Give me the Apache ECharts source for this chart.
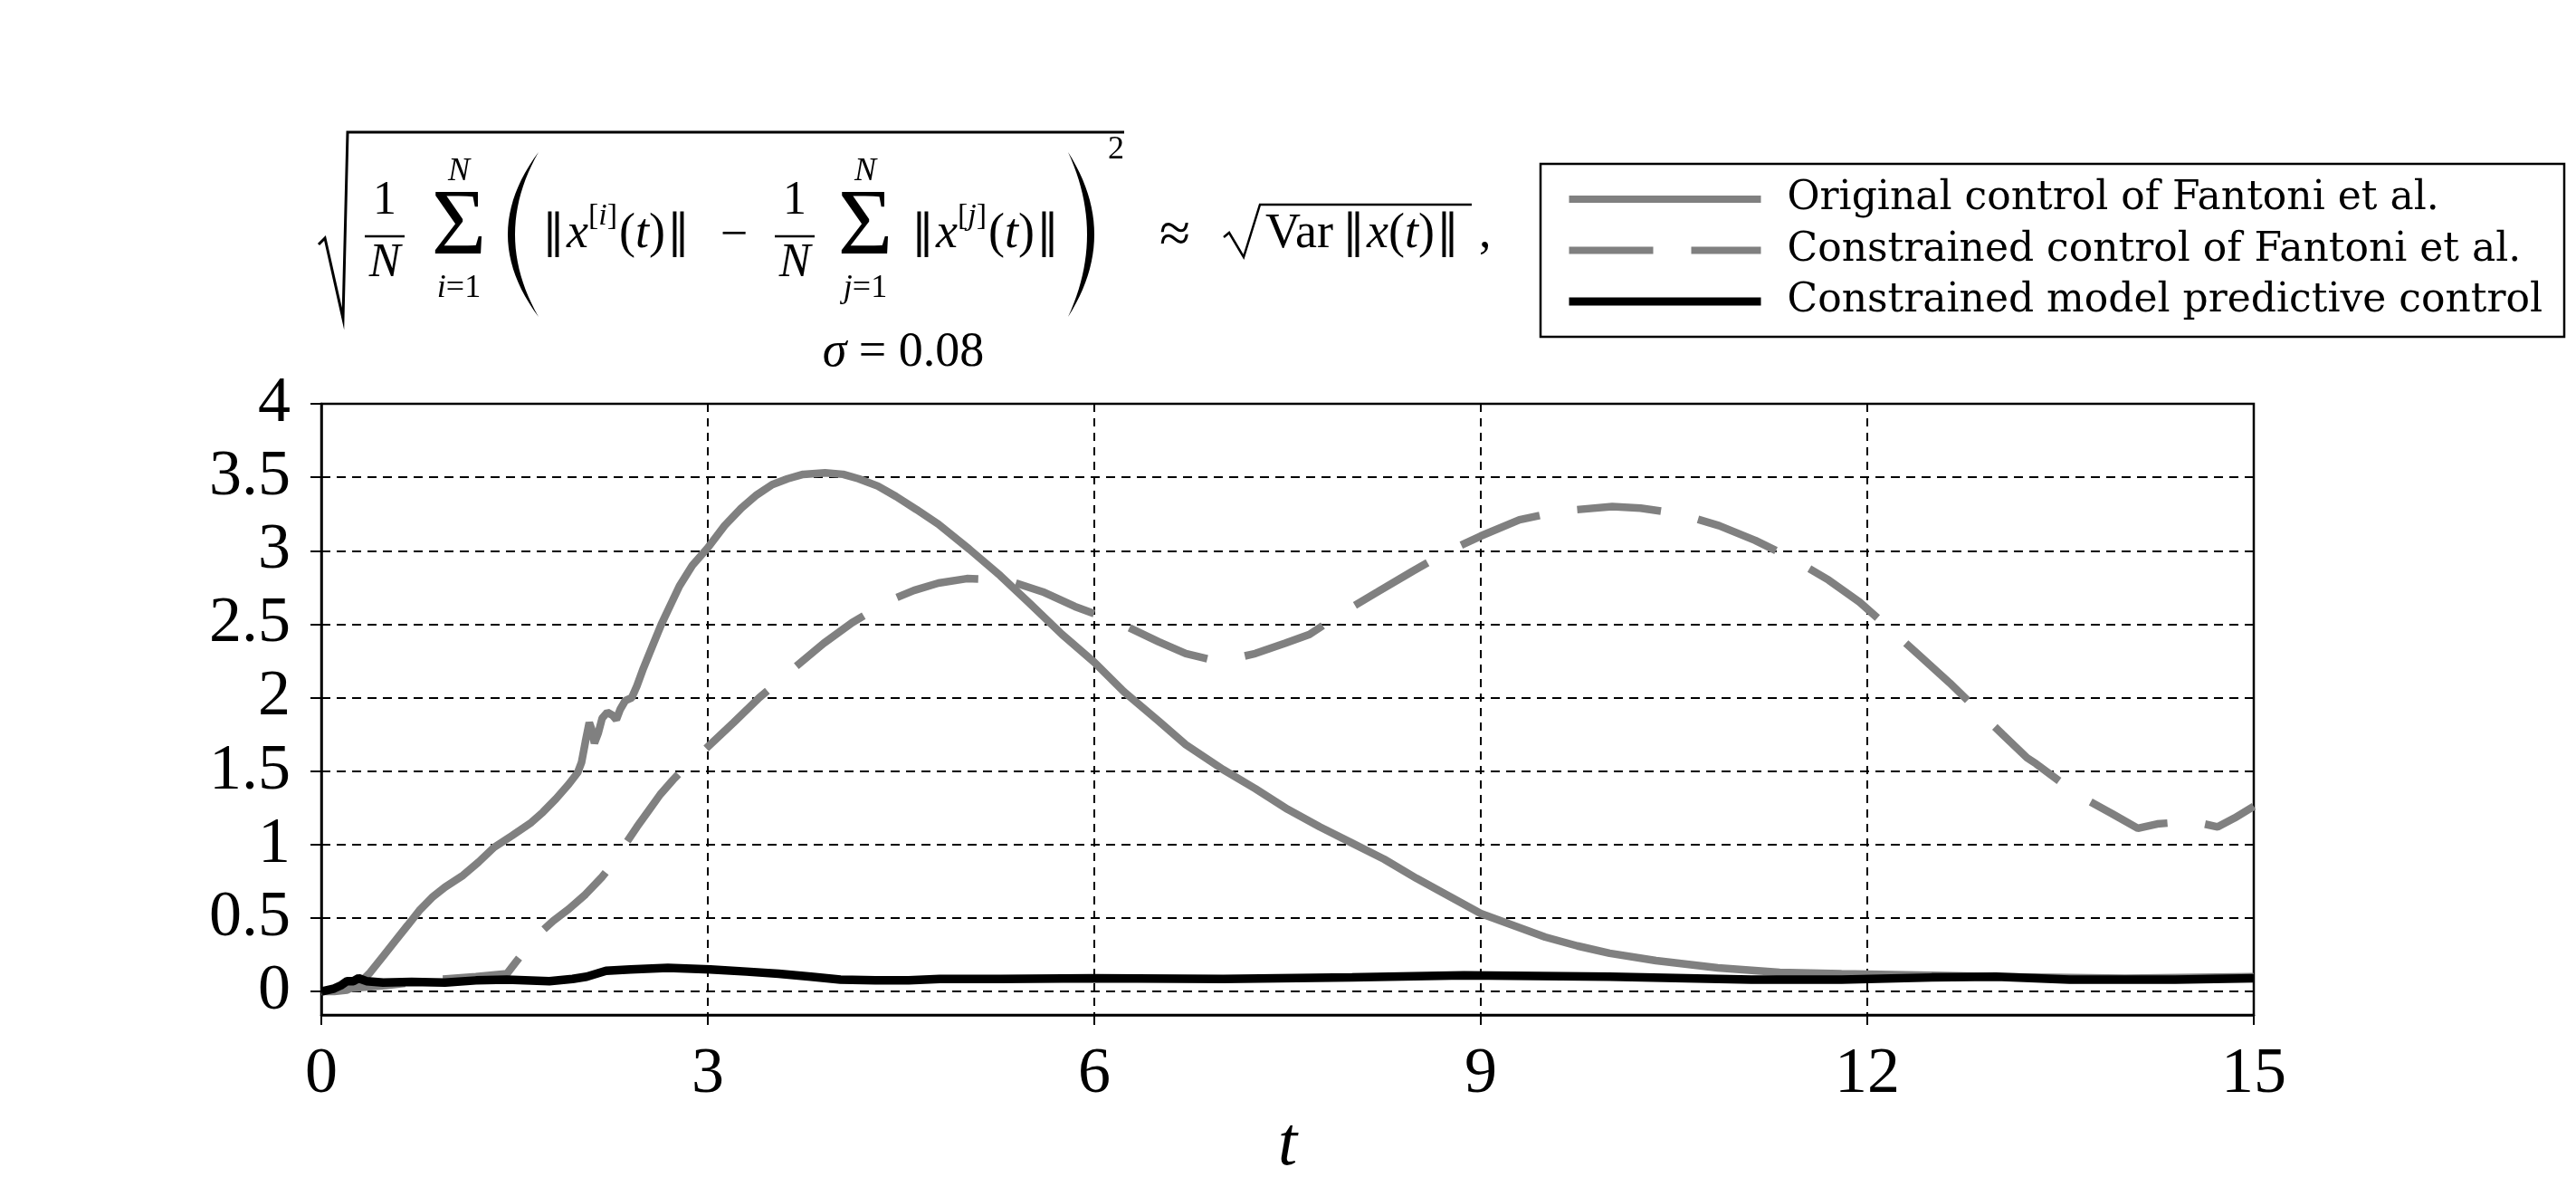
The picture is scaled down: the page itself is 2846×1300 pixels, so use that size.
<!DOCTYPE html>
<html>
<head>
<meta charset="utf-8">
<title>sqrt Var ||x(t)||</title>
<script src="https://cdn.jsdelivr.net/npm/echarts@6/dist/echarts.min.js"></script>
<style>
  html, body { margin: 0; padding: 0; background: #fff; }
  #echart1 { width: 2846px; height: 1300px; }
</style>
</head>
<body>
<div id="echart1"></div>
<script>
// 数据 (t, 值)

// Original control of Fantoni et al.
const tOrig = [0, 0.1, 0.2, 0.29, 0.38, 0.48, 0.57, 0.67, 0.76, 0.86, 0.96, 1.1, 1.22, 1.34, 1.48, 1.63, 1.72, 1.82, 1.92, 1.99,
  2.02, 2.05, 2.08, 2.1, 2.12, 2.15, 2.18, 2.22, 2.26, 2.29, 2.32, 2.36, 2.41, 2.45, 2.5, 2.57, 2.64, 2.71, 2.78, 2.88,
  3.0, 3.13, 3.26, 3.38, 3.5, 3.62, 3.74, 3.91, 4.05, 4.17, 4.32, 4.46, 4.62, 4.79, 5.03, 5.27, 5.5, 5.75, 6.0, 6.23,
  6.5, 6.71, 7.0, 7.25, 7.5, 7.75, 8.0, 8.25, 8.5, 8.75, 9.0, 9.25, 9.5, 9.75, 10.0, 10.36, 10.84, 11.32, 11.8, 12.5,
  13.0, 14.0, 15.0];
const vOrig = [0, 0.0, 0.01, 0.05, 0.13, 0.24, 0.34, 0.45, 0.55, 0.64, 0.71, 0.79, 0.88, 0.98, 1.06, 1.15, 1.22, 1.31, 1.41, 1.49,
  1.56, 1.7, 1.83, 1.78, 1.69, 1.76, 1.86, 1.9, 1.88, 1.85, 1.92, 1.98, 2.0, 2.08, 2.2, 2.35, 2.5, 2.63, 2.76, 2.9,
  3.02, 3.17, 3.29, 3.38, 3.45, 3.49, 3.52, 3.53, 3.52, 3.49, 3.44, 3.37, 3.28, 3.18, 3.01, 2.83, 2.64, 2.43, 2.24, 2.04,
  1.84, 1.68, 1.51, 1.38, 1.24, 1.12, 1.01, 0.9, 0.77, 0.65, 0.53, 0.45, 0.37, 0.31, 0.26, 0.21, 0.16, 0.13, 0.12, 0.11,
  0.1, 0.09, 0.1];

// Constrained control of Fantoni et al.
const tCons = [0, 0.2, 0.5, 0.9, 1.2, 1.44, 1.51, 1.6, 1.7, 1.8, 1.92, 2.05, 2.18, 2.27, 2.35, 2.45, 2.54, 2.63, 2.73, 2.85,
  2.97, 3.2, 3.4, 3.64, 3.9, 4.12, 4.41, 4.6, 4.79, 5.01, 5.32, 5.6, 5.85, 6.19, 6.5, 6.71, 6.9, 7.05, 7.25, 7.48,
  7.67, 7.91, 8.2, 8.47, 8.73, 9.0, 9.3, 9.62, 10.02, 10.24, 10.55, 10.85, 11.13, 11.41, 11.7, 11.94, 12.16, 12.4, 12.64, 12.85,
  13.05, 13.24, 13.31, 13.57, 13.67, 13.9, 14.1, 14.25, 14.39, 14.51, 14.72, 14.85, 15.0];
const vCons = [0, 0.02, 0.04, 0.08, 0.1, 0.12, 0.2, 0.3, 0.4, 0.48, 0.56, 0.66, 0.78, 0.88, 0.99, 1.12, 1.23, 1.34, 1.44, 1.55,
  1.64, 1.83, 2.0, 2.18, 2.37, 2.51, 2.66, 2.73, 2.78, 2.81, 2.8, 2.72, 2.62, 2.51, 2.38, 2.3, 2.26, 2.26, 2.3, 2.37,
  2.43, 2.57, 2.72, 2.86, 2.99, 3.1, 3.21, 3.27, 3.3, 3.29, 3.25, 3.17, 3.07, 2.95, 2.8, 2.65, 2.48, 2.29, 2.1, 1.92,
  1.75, 1.59, 1.55, 1.38, 1.32, 1.21, 1.11, 1.14, 1.15, 1.16, 1.12, 1.18, 1.26];

// Constrained model predictive control
const tMpc = [0, 0.1, 0.15, 0.2, 0.25, 0.29, 0.35, 0.48, 0.7, 0.96, 1.2, 1.44, 1.77, 1.95, 2.06, 2.21, 2.4, 2.69, 3.02, 3.3,
  3.55, 3.8, 4.03, 4.3, 4.56, 4.8, 5.27, 6.0, 7.0, 8.0, 8.87, 10.0, 11.1, 11.8, 12.5, 13.0, 13.57, 14.39, 15.0];
const vMpc = [0, 0.02, 0.04, 0.07, 0.07, 0.09, 0.07, 0.06, 0.065, 0.06, 0.075, 0.08, 0.07, 0.085, 0.1, 0.14, 0.15, 0.16, 0.15, 0.135,
  0.12, 0.1, 0.08, 0.075, 0.075, 0.085, 0.085, 0.09, 0.085, 0.095, 0.11, 0.1, 0.08, 0.08, 0.095, 0.1, 0.08, 0.08, 0.09];

const seriesNames = ["Original control of Fantoni et al.", "Constrained control of Fantoni et al.", "Constrained model predictive control"];
const yTicks = [0, 0.5, 1, 1.5, 2, 2.5, 3, 3.5, 4];

const GRAY = "#808080";
const MATH = "Liberation Serif";
const BARS = "DejaVu Serif";

function pairs(ts, vs) {
  let out = [];
  for (let i in ts) {
    out.push([ts[i], vs[i]]);
  }
  return out;
}

/*量文字宽度, 用来排公式*/
const ctx = document.createElement("canvas").getContext("2d");
function measure(text, size, italic, family) {
  ctx.font = (italic ? "italic " : "") + size + "px " + (family || MATH);
  return ctx.measureText(text).width;
}

function mtext(x, y, text, size, align, italic, family) {
  return {
    type: "text", x: x, y: y, silent: true,
    style: {
      text: text, fill: "#000", fontFamily: family || MATH, fontSize: size,
      fontStyle: italic ? "italic" : "normal",
      align: align || "left", verticalAlign: "middle"
    }
  };
}

/*一行公式: tokens = [文字, 字号, 斜体, dy, 字体, 后间距]*/
function row(x, y, tokens) {
  let els = [];
  for (let tk of tokens) {
    els.push(mtext(x, y + (tk[3] || 0), tk[0], tk[1], "left", tk[2], tk[4]));
    x += measure(tk[0], tk[1], tk[2], tk[4]) + (tk[5] || 0);
  }
  return els;
}

function normGroup(x, y, idx) {
  return row(x, y, [
    ["‖", 50, false, 0, BARS, 2],
    ["x", 54, true, 0],
    ["[", 34, false, -20],
    [idx, 34, true, -20],
    ["]", 34, false, -20, null, 2],
    ["(", 54, false, 0],
    ["t", 54, true, 0],
    [")", 54, false, 0, null, 2],
    ["‖", 50, false, 0, BARS]
  ]);
}

/*大括号 (新月形多边形)*/
function paren(xEnd, yTop, yBot, xMid, thick) {
  let pts = [];
  let cOut = 2 * xMid - xEnd;
  let cIn = 2 * (xMid + thick) - xEnd;
  let yc = (yTop + yBot) / 2;
  let n = 24;
  for (let k = 0; k <= n; k++) {
    let s = k / n;
    pts.push([(1 - s) * (1 - s) * xEnd + 2 * s * (1 - s) * cOut + s * s * xEnd,
      (1 - s) * (1 - s) * yTop + 2 * s * (1 - s) * yc + s * s * yBot]);
  }
  for (let k = n; k >= 0; k--) {
    let s = k / n;
    pts.push([(1 - s) * (1 - s) * xEnd + 2 * s * (1 - s) * cIn + s * s * xEnd,
      (1 - s) * (1 - s) * yTop + 2 * s * (1 - s) * yc + s * s * yBot]);
  }
  return {type: "polygon", silent: true, shape: {points: pts}, style: {fill: "#000"}};
}

function hline(x1, x2, y, w) {
  return {type: "line", silent: true, shape: {x1: x1, y1: y, x2: x2, y2: y}, style: {stroke: "#000", lineWidth: w}};
}

function fraction(cx) {
  return [
    mtext(cx, 222, "1", 52, "center"),
    hline(cx - 22, cx + 22, 261, 2.5),
    mtext(cx, 291, "N", 52, "center", true)
  ];
}

function bigSum(cx, idx) {
  return [
    mtext(cx, 253, "Σ", 104, "center"),
    mtext(cx, 190, "N", 36, "center", true)
  ].concat(row(cx - (measure(idx, 36, true) + measure("=1", 36, false)) / 2, 319, [
    [idx, 36, true, 0],
    ["=1", 36, false, 0]
  ]));
}

let formula = [
  // 大根号
  {type: "polyline", silent: true, shape: {points: [[352, 270], [359, 263], [379, 352], [384, 146], [1242, 146]]},
    style: {stroke: "#000", lineWidth: 3, fill: null}},
  paren(595, 168, 350, 561, 8),
  paren(1180, 168, 350, 1209, -8),
  mtext(1233, 166, "2", 36, "center"),
  mtext(811, 261, "−", 54, "center"),
  mtext(1298, 262, "≈", 62, "center"),
  // 小根号
  {type: "polyline", silent: true, shape: {points: [[1352, 262], [1358, 257], [1374, 284], [1392, 226], [1626, 226]]},
    style: {stroke: "#000", lineWidth: 2.5, fill: null}},
  mtext(1634, 259, ",", 54, "left"),
  // 图例外框
  {type: "rect", silent: true, z: -1, shape: {x: 1702, y: 181, width: 1131, height: 191},
    style: {fill: "#fff", stroke: "#000", lineWidth: 2.5}}
];
formula = formula.concat(fraction(425), bigSum(507, "i"), normGroup(599, 259, "i"),
  fraction(878), bigSum(956, "j"), normGroup(1007, 259, "j"));
formula = formula.concat(row(1398, 259, [
  ["Var", 54, false, 0, null, 10],
  ["‖", 50, false, 0, BARS, 2],
  ["x", 54, true, 0],
  ["(", 54, false, 0],
  ["t", 54, true, 0],
  [")", 54, false, 0, null, 2],
  ["‖", 50, false, 0, BARS]
]));
formula = formula.concat(row(998 - (measure("σ", 54, true) + measure(" = 0.08", 54, false)) / 2, 390, [
  ["σ", 54, true, 0],
  [" = 0.08", 54, false, 0]
]));

let myChart1 = echarts.init(document.getElementById("echart1"));

let option = {
  backgroundColor: "#fff",
  animation: false,
  graphic: {elements: formula},
  grid: {
    left: 355, top: 446, width: 2135, height: 675,
    outerBoundsMode: "none", containLabel: false,
    show: true, borderColor: "#000", borderWidth: 2.5, backgroundColor: "transparent"
  },
  legend: {
    orient: "vertical",
    left: 1729, top: 198,
    padding: 0,
    itemWidth: 212, itemHeight: 44, itemGap: 12.5,
    textStyle: {fontFamily: "DejaVu Serif", fontSize: 44, color: "#000", padding: [0, 0, 0, 24], lineHeight: 44},
    data: [
      {name: seriesNames[0], lineStyle: {width: 8}, itemStyle: {opacity: 0}},
      {name: seriesNames[1], lineStyle: {width: 8}, itemStyle: {opacity: 0}},
      {name: seriesNames[2], lineStyle: {width: 9}, itemStyle: {opacity: 0}}
    ]
  },
  xAxis: {
    type: "value",
    min: 0, max: 15, interval: 3,
    name: "t",
    nameLocation: "middle",
    nameGap: 92,
    nameTextStyle: {fontFamily: MATH, fontSize: 76, fontStyle: "italic", color: "#000"},
    axisLine: {onZero: false, lineStyle: {color: "#000", width: 2.5}},
    axisTick: {show: true, inside: false, length: 11, lineStyle: {color: "#000", width: 2}},
    axisLabel: {fontFamily: MATH, fontSize: 72, color: "#000", margin: 30},
    splitLine: {show: true, lineStyle: {color: "#000", width: 2, type: [9, 7]}}
  },
  yAxis: {
    type: "value",
    min: -0.16, max: 4, splitNumber: 8,
    axisLine: {show: true, onZero: false, lineStyle: {color: "#000", width: 2.5}},
    axisTick: {show: true, inside: false, length: 12, customValues: yTicks, lineStyle: {color: "#000", width: 2}},
    axisLabel: {fontFamily: MATH, fontSize: 72, color: "#000", margin: 34, customValues: yTicks},
    splitLine: {show: true, lineStyle: {color: "#000", width: 2, type: [10, 7]}}
  },
  series: [
    {
      name: seriesNames[0], type: "line", symbol: "none", showSymbol: false,
      data: pairs(tOrig, vOrig),
      lineStyle: {color: GRAY, width: 8.5}, itemStyle: {color: GRAY}, z: 3
    },
    {
      name: seriesNames[1], type: "line", symbol: "none", showSymbol: false,
      data: pairs(tCons, vCons),
      lineStyle: {color: GRAY, width: 8.5, type: [93, 42]}, itemStyle: {color: GRAY}, z: 3
    },
    {
      name: seriesNames[2], type: "line", symbol: "none", showSymbol: false,
      data: pairs(tMpc, vMpc),
      lineStyle: {color: "#000", width: 9.5}, itemStyle: {color: "#000"}, z: 4
    }
  ]
};

myChart1.setOption(option);
</script>
</body>
</html>
